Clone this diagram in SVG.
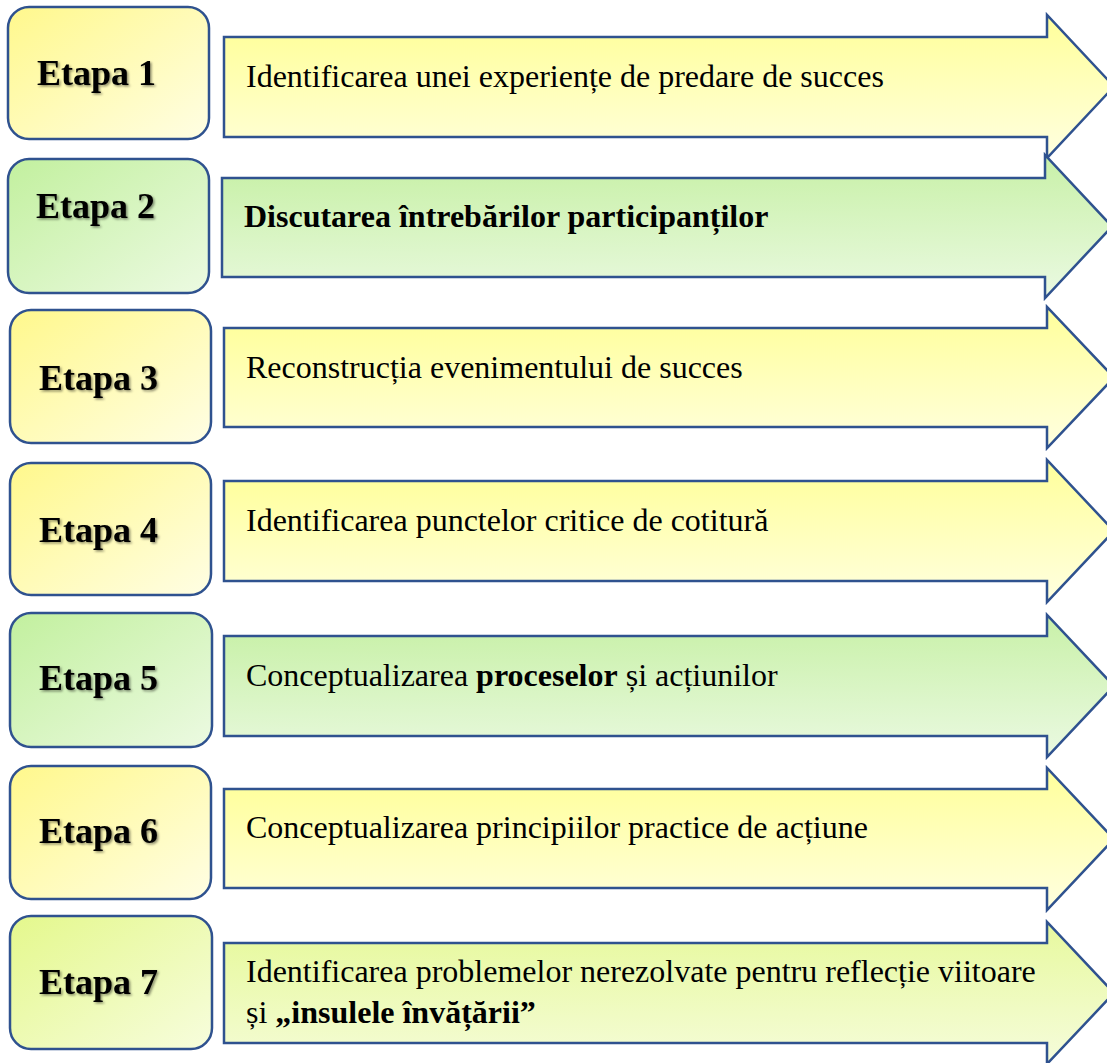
<svg xmlns="http://www.w3.org/2000/svg" width="1107" height="1063" viewBox="0 0 1107 1063">
<defs>
<linearGradient id="gy" x1="0" y1="0" x2="1" y2="1">
<stop offset="0" stop-color="#fff88c"/>
<stop offset="1" stop-color="#fffee4"/>
</linearGradient>
<linearGradient id="gg" x1="0" y1="0" x2="1" y2="1">
<stop offset="0" stop-color="#c2f09e"/>
<stop offset="1" stop-color="#ecfae2"/>
</linearGradient>
<linearGradient id="gl" x1="0" y1="0" x2="1" y2="1">
<stop offset="0" stop-color="#e4f88c"/>
<stop offset="1" stop-color="#f7fddd"/>
</linearGradient>
<linearGradient id="ay" x1="0.3" y1="0" x2="0.4" y2="1">
<stop offset="0" stop-color="#ffff96"/>
<stop offset="1" stop-color="#ffffdc"/>
</linearGradient>
<linearGradient id="ag" x1="0.3" y1="0" x2="0.4" y2="1">
<stop offset="0" stop-color="#c6f0a4"/>
<stop offset="1" stop-color="#e9f9df"/>
</linearGradient>
<linearGradient id="al" x1="0.3" y1="0" x2="0.4" y2="1">
<stop offset="0" stop-color="#e6f99a"/>
<stop offset="1" stop-color="#f5fcd8"/>
</linearGradient>
<filter id="sh" x="-10%" y="-30%" width="130%" height="160%">
<feDropShadow dx="1.5" dy="1.5" stdDeviation="1.2" flood-color="#000" flood-opacity="0.45"/>
</filter>
</defs>
<style>
.box{stroke:#2f528f;stroke-width:2.5}
.arr{stroke:#2f528f;stroke-width:2.5;stroke-linejoin:miter}
.lbl{font-family:"Liberation Serif","Times New Roman",serif;font-weight:bold;font-size:36px;fill:#000}
.txt{font-family:"Liberation Serif","Times New Roman",serif;font-size:32px;fill:#000}
.b{font-weight:bold}
</style>
<g id="connectors">
<path class="arr" fill="url(#ay)" d="M224,37 H1047 V15 L1114,86.5 L1047,158 V137 H224 Z"/>
<path class="arr" fill="url(#ag)" d="M222,178 H1045 V155 L1112,226.5 L1045,298 V277 H222 Z"/>
<path class="arr" fill="url(#ay)" d="M224,328 H1047 V307 L1114,377.5 L1047,448 V427 H224 Z"/>
<path class="arr" fill="url(#ay)" d="M224,481 H1047 V460 L1114,531 L1047,602 V581 H224 Z"/>
<path class="arr" fill="url(#ag)" d="M224,636 H1047 V615 L1114,686 L1047,757 V736 H224 Z"/>
<path class="arr" fill="url(#ay)" d="M224,789 H1047 V768 L1114,839 L1047,910 V888 H224 Z"/>
<path class="arr" fill="url(#al)" d="M224,943 H1047 V922 L1114,993 L1047,1064 V1043 H224 Z"/>
</g>
<g id="step1">
<rect class="box" x="8" y="7" width="201" height="132" rx="21" fill="url(#gy)"/>
<text class="lbl" x="37" y="85" filter="url(#sh)">Etapa 1</text>
<text class="txt" x="246" y="87">Identificarea unei experiențe de predare de succes</text>
</g>
<g id="step2">
<rect class="box" x="8" y="159" width="201" height="134" rx="21" fill="url(#gg)"/>
<text class="lbl" x="36" y="218" filter="url(#sh)">Etapa 2</text>
<text class="txt b" x="244" y="227">Discutarea întrebărilor participanților</text>
</g>
<g id="step3">
<rect class="box" x="10" y="310" width="201" height="133" rx="21" fill="url(#gy)"/>
<text class="lbl" x="39" y="390" filter="url(#sh)">Etapa 3</text>
<text class="txt" x="246" y="378">Reconstrucția evenimentului de succes</text>
</g>
<g id="step4">
<rect class="box" x="10" y="463" width="201" height="132" rx="21" fill="url(#gy)"/>
<text class="lbl" x="39" y="542" filter="url(#sh)">Etapa 4</text>
<text class="txt" x="246" y="531">Identificarea punctelor critice de cotitură</text>
</g>
<g id="step5">
<rect class="box" x="10" y="613" width="202" height="134" rx="21" fill="url(#gg)"/>
<text class="lbl" x="39" y="690" filter="url(#sh)">Etapa 5</text>
<text class="txt" x="246" y="686">Conceptualizarea <tspan class="b">proceselor</tspan> și acțiunilor</text>
</g>
<g id="step6">
<rect class="box" x="10" y="766" width="201" height="133" rx="21" fill="url(#gy)"/>
<text class="lbl" x="39" y="843" filter="url(#sh)">Etapa 6</text>
<text class="txt" x="246" y="838">Conceptualizarea principiilor practice de acțiune</text>
</g>
<g id="step7">
<rect class="box" x="10" y="916" width="202" height="133" rx="21" fill="url(#gl)"/>
<text class="lbl" x="39" y="994" filter="url(#sh)">Etapa 7</text>
<text class="txt" x="246" y="982">Identificarea problemelor nerezolvate pentru reflecție viitoare</text>
<text class="txt" x="246" y="1023">și <tspan class="b">„insulele învățării”</tspan></text>
</g>
</svg>
